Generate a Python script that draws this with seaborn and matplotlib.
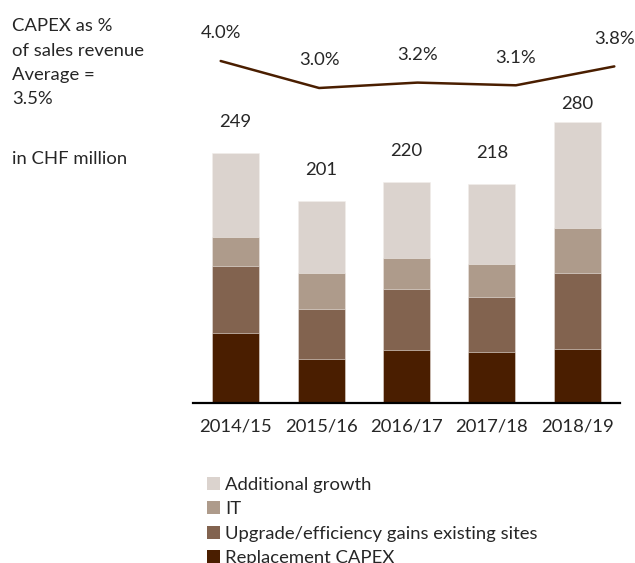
import numpy as np
import pandas as pd
import seaborn as sns
import matplotlib.pyplot as plt
from matplotlib.patches import Patch

# data (CHF million)
years = ["2014/15", "2015/16", "2016/17", "2017/18", "2018/19"]
replacement = [70, 44, 53, 51, 54]
upgrade = [66, 50, 60, 54, 75]
it = [29, 35, 31, 33, 45]
additional = [84, 72, 76, 80, 106]
totals = [249, 201, 220, 218, 280]
capex_pct = [4.0, 3.0, 3.2, 3.1, 3.8]

series_names = ["Replacement CAPEX", "Upgrade/efficiency gains existing sites",
                "IT", "Additional growth"]
colors = ["#4a1e00", "#82634f", "#ae9b8b", "#dbd3ce"]

sns.set_style("white")
plt.rcParams["font.family"] = ["Lato", "DejaVu Sans"]
FS = 13.3

W, H = 635, 563
fig = plt.figure(figsize=(W / 100, H / 100), dpi=100)


def px_axes(left, top, right, bottom):
    return fig.add_axes([left / W, 1 - bottom / H, (right - left) / W, (bottom - top) / H])


# stacked bars: draw cumulative heights, tallest first
ax = px_axes(193, 101.5, 620, 403)
df = pd.DataFrame({"year": years, "Replacement CAPEX": replacement,
                   "Upgrade/efficiency gains existing sites": upgrade,
                   "IT": it, "Additional growth": additional})
cum = df[series_names].cumsum(axis=1)
for name, col in reversed(list(zip(series_names, colors))):
    sns.barplot(x=df["year"], y=cum[name], color=col, width=0.55,
                edgecolor="#f2eeeb", linewidth=0.4, saturation=1, ax=ax)

ax.set_xlim(-0.5, 4.5)
ax.set_ylim(0, 300)
ax.set_xlabel("")
ax.set_ylabel("")
ax.set_yticks([])
sns.despine(ax=ax, left=True)
ax.spines["bottom"].set_color("black")
ax.spines["bottom"].set_linewidth(1.6)
ax.tick_params(axis="x", length=0, pad=11, labelsize=FS)

offsets = [22, 22, 22, 22, 13]
for i, t in enumerate(totals):
    ax.annotate(str(t), (i, t), xytext=(0, offsets[i]), textcoords="offset points",
                ha="center", va="center", fontsize=FS)

# CAPEX % line on its own axes
lax = px_axes(201, 20, 634, 110)
lax.patch.set_alpha(0)
sns.lineplot(x=np.arange(len(capex_pct)), y=capex_pct, color="#4a1e00",
             linewidth=1.8, ax=lax)
lax.set_xlim(-0.2, 4.2)
lax.set_ylim(2.185, 5.519)
lax.axis("off")
for i, v in enumerate(capex_pct):
    lax.annotate(f"{v:.1f}%", (i, v), xytext=(0, 20), textcoords="offset points",
                 ha="center", va="center", fontsize=FS)

# side notes
notes = ["CAPEX as %", "of sales revenue", "Average =", "3.5%"]
for k, s in enumerate(notes):
    fig.text(12 / W, 1 - (26 + 24.5 * k) / H, s, fontsize=FS, va="center", ha="left")
fig.text(12 / W, 1 - 159 / H, "in CHF million", fontsize=FS, va="center", ha="left")

# legend
handles = [Patch(facecolor=c, edgecolor="none") for c in reversed(colors)]
fig.legend(handles, list(reversed(series_names)), loc="upper left",
           bbox_to_anchor=(207 / W, 1 - 477 / H), frameon=False, fontsize=FS,
           handlelength=0.7, handleheight=0.7, handletextpad=0.3, labelspacing=0.45,
           borderpad=0, borderaxespad=0)

fig.savefig("out.png", dpi=100)
